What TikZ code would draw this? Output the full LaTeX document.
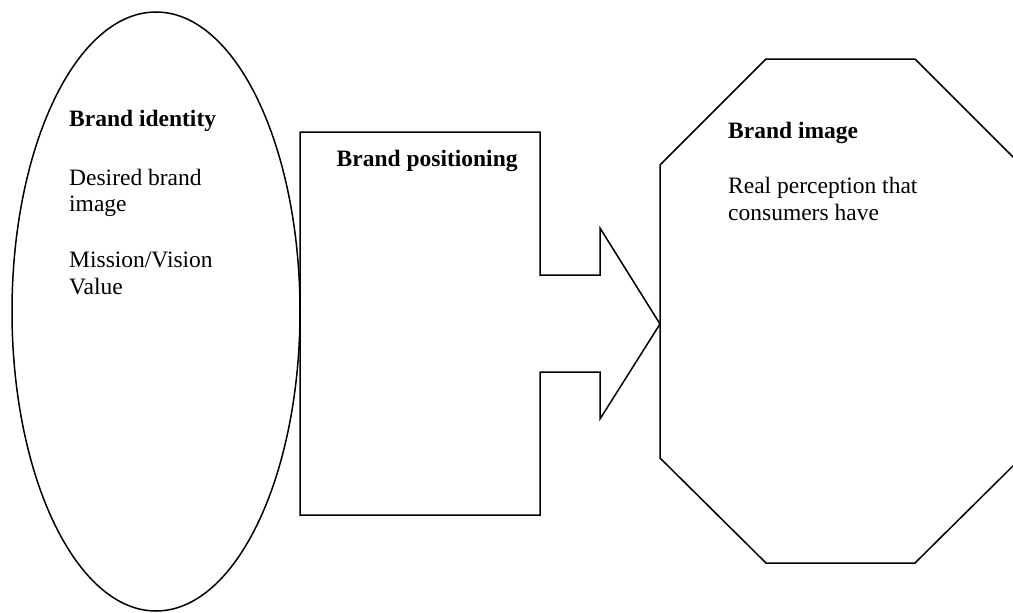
\documentclass[tikz,border=0pt]{standalone}
\usepackage{fontspec}
\setmainfont{Liberation Serif}
\begin{document}
\begin{tikzpicture}[x=1pt,y=-1pt,
  shapeline/.style={draw=black,line width=1.5pt,line join=miter},
  txt/.style={inner sep=0pt,anchor=base west,font=\fontsize{23.5}{27}\selectfont},
  btxt/.style={txt,font=\fontsize{23.5}{27}\selectfont\bfseries}]
\useasboundingbox (0,0) rectangle (1013,613);
\clip (0,0) rectangle (1013,613);
\fill[white] (0,0) rectangle (1013,613);
% Brand identity ellipse
\coordinate (ellc) at (156,311.5);
\draw[shapeline] (ellc) ellipse [x radius=144pt, y radius=299.5pt];
% Brand positioning block arrow
\draw[shapeline] (300,132) -- (540,132) -- (540,275) -- (600,275) -- (600,228)
  -- (660,324) -- (600,419) -- (600,372) -- (540,372) -- (540,515)
  -- (300,515) -- cycle;
% Brand image octagon
\draw[shapeline] (766,59) -- (915,59) -- (1021,165) -- (1021,458) -- (915,563)
  -- (766,563) -- (660,458) -- (660,165) -- cycle;
% Texts
\node[btxt] (idt) at (69,126.5) {Brand identity};
\node[txt] (des1) at (69,185) {Desired brand};
\node[txt] (des2) at (69,211.7) {image};
\node[txt] (mis1) at (69,267.3) {Mission/Vision};
\node[txt] (mis2) at (69,294.3) {Value};
\node[btxt] (pos) at (336.5,166) {Brand positioning};
\node[btxt] (img) at (728,138.3) {Brand image};
\node[txt] (rp1) at (728,193.3) {Real perception that};
\node[txt] (rp2) at (728,220) {consumers have};
\end{tikzpicture}
\end{document}
